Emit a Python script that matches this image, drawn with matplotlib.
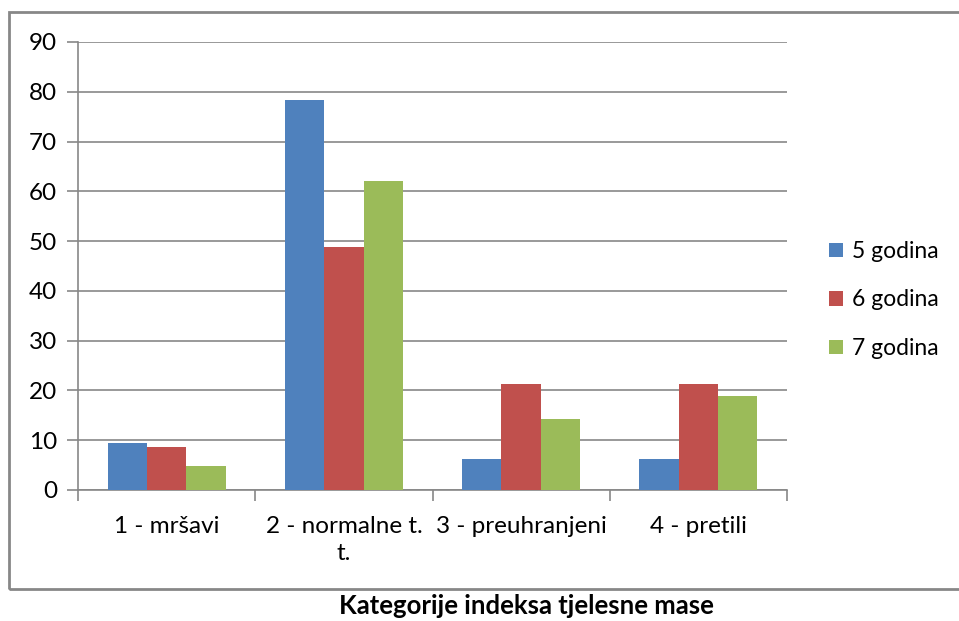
import numpy as np
import matplotlib.pyplot as plt
from matplotlib.patches import Rectangle

categories = ['1 - mršavi', '2 - normalne t.\nt.', '3 - preuhranjeni', '4 - pretili']
series = ['5 godina', '6 godina', '7 godina']
v5 = [9.4, 78.3, 6.3, 6.3]
v6 = [8.6, 48.8, 21.2, 21.2]
v7 = [4.8, 62.0, 14.3, 18.9]
colors = ['#4F81BD', '#C0504D', '#9BBB59']

plt.rcParams['font.family'] = ['Lato', 'DejaVu Sans']
grey = '#878787'

fig = plt.figure(figsize=(9.59, 6.21), dpi=100)
ax = fig.add_axes([78/959, 131/621, (787-78)/959, (490-42)/621])

x = np.arange(len(categories))
w = 1/4.5
for i, (vals, name) in enumerate(zip([v5, v6, v7], series)):
    ax.bar(x + (i-1)*w, vals, w, color=colors[i], label=name, zorder=3)

ax.set_xlim(-0.5, 3.5)
ax.set_ylim(0, 90)
ax.set_yticks(np.arange(0, 91, 10))
ax.yaxis.grid(True, color=grey, linewidth=1.2, zorder=0)
ax.tick_params(axis='y', length=8, width=1.2, color=grey, labelsize=17.5, pad=7)

ax.set_xticks(np.arange(-0.5, 3.6, 1))
ax.set_xticklabels([])
ax.tick_params(axis='x', which='major', length=8, width=1.2, color=grey)
ax.set_xticks(x, minor=True)
ax.set_xticklabels(categories, minor=True, fontsize=17.5, linespacing=1.35)
ax.tick_params(axis='x', which='minor', length=0, pad=19)

for s in ['top', 'right']:
    ax.spines[s].set_visible(False)
for s in ['left', 'bottom']:
    ax.spines[s].set_color(grey)
    ax.spines[s].set_linewidth(1.2)

leg = fig.legend(loc='center left', bbox_to_anchor=(808/959, 1 - 300/621),
                 frameon=False, fontsize=16.5, handlelength=0.62, handleheight=0.62,
                 handletextpad=0.4, labelspacing=1.2)

fig.patches.append(Rectangle((9/959, 1 - 589/621), 1.2, (589-12)/621,
                             transform=fig.transFigure, fill=False,
                             edgecolor=grey, linewidth=2.0))

fig.text(526/959, 1 - 606/621, 'Kategorije indeksa tjelesne mase',
         ha='center', va='center', fontsize=18.5, fontweight='bold')

fig.savefig('out.png', dpi=100)
